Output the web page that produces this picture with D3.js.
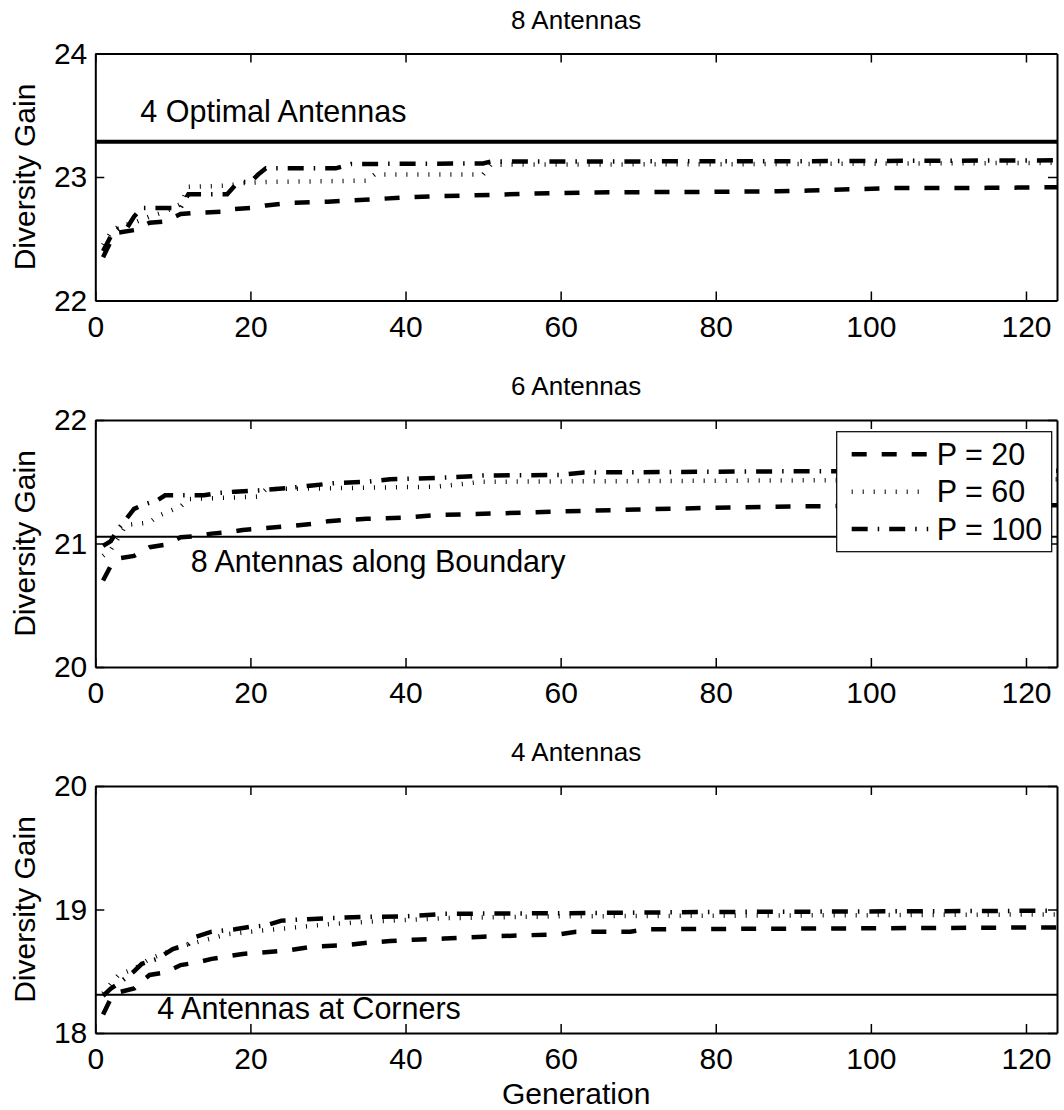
<!DOCTYPE html>
<html>
<head>
<meta charset="utf-8">
<script src="https://cdn.jsdelivr.net/npm/d3@7"></script>
<style>
  html, body { margin: 0; padding: 0; background: #fff; }
  svg text { font-family: "Liberation Sans", Arial, Helvetica, sans-serif; fill: #000; }
</style>
</head>
<body>
<svg id="chart" width="1064" height="1110"></svg>
<script>
// Best diversity gain per generation of the genetic search, as [generation, gain].
// Population sizes P = 20, 60, 100; one panel per antenna count.

const xTicks = [0, 20, 40, 60, 80, 100, 120];

// 8 antennas
const gain8P20 = [[1,22.35],[2,22.48],[3,22.55],[5,22.57],[6,22.60],[7,22.63],[9,22.64],[10,22.67],[11,22.70],[13,22.71],[17,22.72],[18,22.74],[20,22.75],[22,22.77],[25,22.79],[30,22.80],[33,22.81],[36,22.82],[40,22.835],[44,22.845],[48,22.85],[52,22.857],[56,22.865],[60,22.87],[64,22.875],[72,22.878],[80,22.88],[88,22.885],[92,22.89],[95,22.897],[99,22.903],[103,22.91],[115,22.912],[124,22.917]];
const gain8P60 = [[1,22.45],[2,22.55],[3,22.60],[5,22.63],[7,22.68],[9,22.72],[11,22.78],[12,22.92],[17,22.93],[19,22.95],[22,22.96],[35,22.97],[36,23.02],[50,23.02],[51,23.10],[90,23.105],[124,23.115]];
const gain8P100 = [[1,22.40],[2,22.52],[3,22.58],[4,22.58],[5,22.68],[6,22.75],[11,22.75],[12,22.86],[17,22.86],[18,22.93],[19,22.96],[20,22.96],[21,23.02],[22,23.07],[31,23.07],[33,23.105],[50,23.11],[51,23.125],[90,23.128],[124,23.135]];
const ref8 = 23.286;

// 6 antennas
const gain6P20 = [[1,20.70],[2,20.82],[3,20.88],[5,20.90],[7,20.97],[9,20.99],[11,21.05],[13,21.06],[15,21.08],[17,21.09],[19,21.11],[21,21.12],[25,21.14],[28,21.16],[30,21.18],[32,21.19],[35,21.20],[40,21.21],[44,21.23],[50,21.24],[60,21.26],[70,21.275],[80,21.29],[90,21.30],[110,21.31],[124,21.31]];
const gain6P60 = [[1,20.90],[2,20.95],[3,21.05],[4,21.15],[7,21.17],[8,21.22],[11,21.30],[12,21.36],[21,21.38],[22,21.44],[44,21.46],[50,21.50],[124,21.52]];
const gain6P100 = [[1,20.98],[2,21.02],[3,21.12],[4,21.20],[5,21.28],[6,21.31],[8,21.35],[9,21.39],[14,21.39],[16,21.41],[18,21.42],[21,21.43],[25,21.45],[28,21.47],[31,21.49],[35,21.50],[38,21.52],[44,21.53],[50,21.55],[60,21.555],[63,21.575],[90,21.585],[124,21.59]];
const ref6 = 21.054;

// 4 antennas
const gain4P20 = [[1,18.15],[2,18.28],[3,18.33],[5,18.36],[6,18.42],[7,18.47],[9,18.49],[11,18.55],[13,18.57],[15,18.60],[17,18.62],[19,18.64],[21,18.65],[25,18.67],[28,18.70],[32,18.71],[35,18.73],[38,18.745],[41,18.755],[45,18.765],[50,18.78],[55,18.79],[60,18.80],[62,18.82],[69,18.82],[71,18.84],[90,18.845],[124,18.855]];
const gain4P60 = [[1,18.32],[2,18.40],[3,18.47],[5,18.52],[7,18.60],[9,18.65],[11,18.70],[14,18.75],[17,18.80],[20,18.82],[25,18.85],[30,18.88],[35,18.90],[45,18.93],[60,18.945],[124,18.96]];
const gain4P100 = [[1,18.30],[2,18.36],[3,18.40],[4,18.45],[5,18.50],[6,18.56],[8,18.60],[10,18.68],[12,18.72],[13,18.78],[15,18.82],[18,18.84],[20,18.86],[22,18.87],[24,18.91],[27,18.92],[30,18.93],[35,18.94],[40,18.945],[45,18.965],[60,18.97],[80,18.98],[124,18.99]];
const ref4 = 18.31;

const panels = [
  { title: "8 Antennas", yDomain: [22, 24], yTicks: [22, 23, 24],
    series: [gain8P20, gain8P60, gain8P100], ref: ref8, refWidth: 4,
    note: "4 Optimal Antennas", legend: false },
  { title: "6 Antennas", yDomain: [20, 22], yTicks: [20, 21, 22],
    series: [gain6P20, gain6P60, gain6P100], ref: ref6, refWidth: 2,
    note: "8 Antennas along Boundary", legend: true },
  { title: "4 Antennas", yDomain: [18, 20], yTicks: [18, 19, 20],
    series: [gain4P20, gain4P60, gain4P100], ref: ref4, refWidth: 2,
    note: "4 Antennas at Corners", legend: false }
];

const legendLabels = ["P = 20", "P = 60", "P = 100"];
const lineStyles = [
  { width: 4.5, dash: "15,15", cap: "butt" },
  { width: 4.5, dash: "1,10", cap: "butt" },
  { width: 4.5, dash: "16,10,1.5,10", cap: "butt" }
];

const plotLeft = 95.3, plotRight = 1057;
const panelTops = [53.5, 420, 786];
const panelH = 247;
const fontTick = 30, fontLabel = 30, fontTitle = 26, fontNote = 30.5;

const svg = d3.select("#chart");
const x = d3.scaleLinear().domain([0, 124]).range([plotLeft, plotRight]);

panels.forEach((p, i) => {
  const top = panelTops[i], bottom = top + panelH;
  const y = d3.scaleLinear().domain(p.yDomain).range([bottom, top]);
  const g = svg.append("g");

  const clipId = "clip" + i;
  svg.append("clipPath").attr("id", clipId).append("rect")
    .attr("x", plotLeft).attr("y", top)
    .attr("width", plotRight - plotLeft).attr("height", panelH);

  // reference configuration
  g.append("line")
    .attr("x1", x(0)).attr("x2", x(124))
    .attr("y1", y(p.ref)).attr("y2", y(p.ref))
    .attr("stroke", "#000").attr("stroke-width", p.refWidth);

  const line = d3.line().x(d => x(d[0])).y(d => y(d[1]));
  const lines = g.append("g").attr("clip-path", `url(#${clipId})`);
  p.series.forEach((s, k) => {
    lines.append("path").datum(s)
      .attr("d", line)
      .attr("fill", "none")
      .attr("stroke", "#000")
      .attr("stroke-width", lineStyles[k].width)
      .attr("stroke-dasharray", lineStyles[k].dash)
      .attr("stroke-linecap", lineStyles[k].cap)
      .attr("stroke-linejoin", "miter");
  });

  // axes box with inward ticks
  const axB = d3.axisBottom(x).tickValues(xTicks).tickSizeInner(-9).tickSizeOuter(0).tickPadding(15);
  const axT = d3.axisTop(x).tickValues(xTicks).tickSizeInner(-9).tickSizeOuter(0).tickFormat("");
  const axL = d3.axisLeft(y).tickValues(p.yTicks).tickSizeInner(-9).tickSizeOuter(0).tickPadding(8).tickFormat(d3.format("d"));
  const axR = d3.axisRight(y).tickValues(p.yTicks).tickSizeInner(-9).tickSizeOuter(0).tickFormat("");

  const styleAxis = sel => {
    sel.selectAll("path.domain").attr("stroke", "#000").attr("stroke-width", 2);
    sel.selectAll(".tick line").attr("stroke", "#000").attr("stroke-width", 1.5);
    sel.selectAll(".tick text").attr("font-size", fontTick)
      .attr("font-family", "Liberation Sans, Arial, sans-serif").attr("fill", "#000");
  };
  g.append("g").attr("transform", `translate(0,${bottom})`).call(axB).call(styleAxis);
  g.append("g").attr("transform", `translate(0,${top})`).call(axT).call(styleAxis);
  g.append("g").attr("transform", `translate(${plotLeft},0)`).call(axL).call(styleAxis);
  g.append("g").attr("transform", `translate(${plotRight},0)`).call(axR).call(styleAxis);

  // title
  g.append("text")
    .attr("x", (plotLeft + plotRight) / 2).attr("y", top - 25)
    .attr("text-anchor", "middle").attr("font-size", fontTitle)
    .text(p.title);

  // y label
  g.append("text")
    .attr("transform", `translate(35,${(top + bottom) / 2}) rotate(-90)`)
    .attr("text-anchor", "middle").attr("font-size", fontLabel)
    .text("Diversity Gain");

  // reference note
  const notePos = [
    { gx: 5.8, dy: -20 },
    { gx: 12.3, dy: 35 },
    { gx: 8, dy: 24 }
  ][i];
  g.append("text")
    .attr("x", x(notePos.gx)).attr("y", y(p.ref) + notePos.dy)
    .attr("font-size", fontNote)
    .text(p.note);

  if (p.legend) {
    const lw = 215, lh = 120;
    const lx = plotRight - 5.3 - lw, ly = top + 11.7;
    const lg = g.append("g").attr("transform", `translate(${lx},${ly})`);
    lg.append("rect").attr("width", lw).attr("height", lh)
      .attr("fill", "#fff").attr("stroke", "#000").attr("stroke-width", 1.2);
    legendLabels.forEach((lab, k) => {
      const cy = 22.6 + k * 37.4;
      lg.append("line")
        .attr("x1", 15).attr("x2", 91.5).attr("y1", cy).attr("y2", cy)
        .attr("stroke", "#000")
        .attr("stroke-width", lineStyles[k].width)
        .attr("stroke-dasharray", lineStyles[k].dash)
        .attr("stroke-linecap", lineStyles[k].cap);
      lg.append("text").attr("x", 100).attr("y", cy + 10.5)
        .attr("font-size", fontNote).text(lab);
    });
  }
});

// x label
svg.append("text")
  .attr("x", (plotLeft + plotRight) / 2).attr("y", 1104)
  .attr("text-anchor", "middle").attr("font-size", fontLabel)
  .text("Generation");
</script>
</body>
</html>
